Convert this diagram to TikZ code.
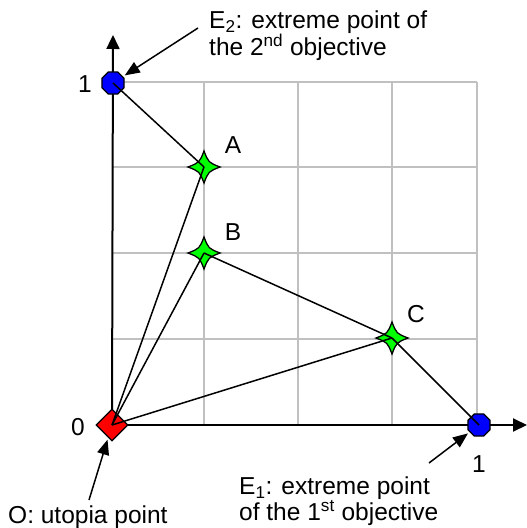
\documentclass[tikz,border=0pt]{standalone}
\usepackage{fontspec}
\setmainfont{Liberation Sans}
\usetikzlibrary{arrows.meta,shapes.geometric,backgrounds}
\definecolor{gridgray}{RGB}{192,192,192}
\definecolor{ptblue}{RGB}{0,0,255}
\definecolor{ptred}{RGB}{255,0,0}
\definecolor{ptgreen}{RGB}{0,255,0}
\tikzset{
  lab/.style={font=\fontsize{24.5bp}{26.5bp}\selectfont, inner sep=0pt},
  gridline/.style={draw=gridgray, line width=1.3bp},
  axisline/.style={draw=black, line width=2bp, -{Triangle[length=14bp,width=13bp]}},
  link/.style={draw=black, line width=1.5bp},
  annot/.style={draw=black, line width=1.5bp, -{Triangle[length=15bp,width=12bp]}, shorten >=2bp},
  octa/.style={regular polygon, regular polygon sides=8, minimum size=24bp, inner sep=0pt, fill=ptblue, draw=black, line width=1.3bp},
  dia/.style={diamond, minimum width=32bp, minimum height=32bp, inner sep=0pt, fill=ptred, draw=black, line width=1.3bp},
  ptnode/.style={circle, inner sep=0pt, minimum size=0pt},
  fstar/.pic={\path[draw=black, fill=ptgreen, line width=1.3bp]
     (0,-16) .. controls (4.5,-4.5) .. (16,0) .. controls (4.5,4.5) .. (0,16)
     .. controls (-4.5,4.5) .. (-16,0) .. controls (-4.5,-4.5) .. cycle;}
}
\begin{document}
\begin{tikzpicture}[x=1bp,y=-1bp]
\useasboundingbox (0,0) rectangle (527,528);
% points
\node[octa] (E2) at (113,83) {};
\node[octa] (E1) at (479,425) {};
\node[dia] (O) at (112,425) {};
\pic at (204,167) {fstar};
\pic at (204,253) {fstar};
\pic at (392,338) {fstar};
\node[ptnode] (A) at (204,167) {};
\node[ptnode] (B) at (204,253) {};
\node[ptnode] (C) at (392,338) {};
\coordinate (ytip) at (113,35);
\coordinate (xtip) at (527,425);
% grid and axes below
\begin{scope}[on background layer]
  \foreach \gx in {204,298,392,477} \draw[gridline] (\gx,82) -- (\gx,425);
  \foreach \gy in {82,167,253,339} \draw[gridline] (113,\gy) -- (477,\gy);
  \draw[axisline] (O.center) -- (ytip);
  \draw[axisline] (O.center) -- (xtip);
\end{scope}
% connectors
\draw[link] (E2.center) -- (A.center);
\draw[link] (A.center) -- (O.center);
\draw[link] (B.center) -- (O.center);
\draw[link] (B.center) -- (C.center);
\draw[link] (C.center) -- (O.center);
\draw[link] (C.center) -- (E1.center);
% labels
\node[lab] (l1y) at (85,84) {1};
\node[lab] (l0) at (78,427) {0};
\node[lab] (l1x) at (479,464) {1};
\node[lab] (lA) at (233,145) {A};
\node[lab] (lB) at (233,232) {B};
\node[lab] (lC) at (416,314) {C};
\node[lab, anchor=north west, align=left] (tE2) at (209,10.5)
  {E\textsubscript{2}: extreme point of\\the 2\textsuperscript{nd} objective};
\node[lab, anchor=north west, align=left] (tE1) at (239,476.5)
  {E\textsubscript{1}: extreme point\\of the 1\textsuperscript{st} objective};
\node[lab, anchor=base west] (tO) at (8,523) {O: utopia point};
% annotation arrows
\coordinate (e2tail) at (198,28);
\coordinate (otail) at (89,500);
\coordinate (e1tail) at (429,463);
\draw[annot] (e2tail) -- (E2);
\draw[annot] (otail) -- (O);
\draw[annot] (e1tail) -- (E1);
\end{tikzpicture}
\end{document}
